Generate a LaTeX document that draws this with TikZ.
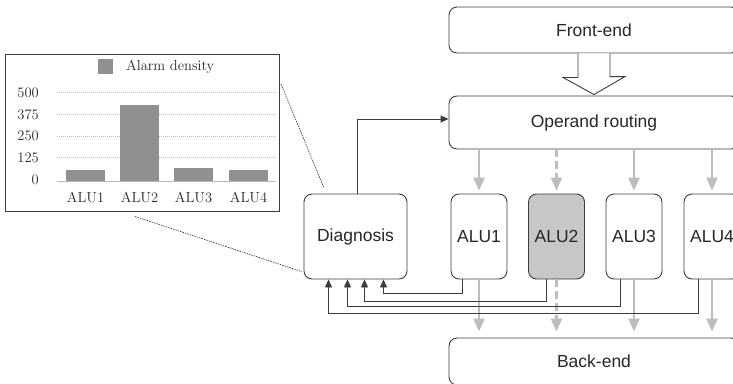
\documentclass[tikz,border=0pt]{standalone}
\usepackage{fontspec}
\newfontfamily\hv{Liberation Sans}
\usetikzlibrary{arrows.meta}
\definecolor{barfill}{HTML}{909090}
\definecolor{edge}{HTML}{3C3C3C}
\definecolor{flow}{HTML}{BDBDBD}
\begin{document}
\begin{tikzpicture}[x=1pt,y=-1pt,
  box/.style={draw=edge, line width=0.9pt, rounded corners=8pt, inner sep=0pt,
    font=\hv\fontsize{17.5}{20}\selectfont, text=black!85},
  alubox/.style={box, minimum width=56pt, minimum height=85pt},
  wide/.style={box, minimum width=290pt},
  fb/.style={draw=edge, line width=0.9pt, -{Triangle[length=8pt,width=7pt]}},
  gflow/.style={draw=flow, line width=2.6pt, -{Triangle[length=13pt,width=11pt]}},
  gdash/.style={gflow, dash pattern=on 8pt off 4pt},
  chartfont/.style={font=\fontsize{14.5}{16}\selectfont, text=black!85, inner sep=0pt},
  zoomline/.style={draw=black!85, line width=0.6pt, dash pattern=on 1.5pt off 1pt}]
\useasboundingbox (0,0) rectangle (733,383);
\clip (0,0) rectangle (733,383);

% ---------- pipeline blocks ----------
\node[wide, minimum height=46pt] (front) at (594,30) {Front-end};
\node[wide, minimum height=53pt] (oper) at (594,122.5) {Operand routing};
\node[wide, minimum height=47pt] (back) at (594,361.5) {Back-end};
\node[box, minimum width=103pt, minimum height=85pt] (diag) at (355.5,236.5) {Diagnosis};
\node[alubox] (alu1) at (479,236.5) {ALU1};
\node[alubox, fill=black!22] (alu2) at (556.5,236.5) {ALU2};
\node[alubox] (alu3) at (634,236.5) {ALU3};
\node[alubox] (alu4) at (712,236.5) {ALU4};

% hollow arrow from the front-end into operand routing
\coordinate (hl) at ([xshift=-16pt]front.south);
\coordinate (hr) at ([xshift=16pt]front.south);
\coordinate (tip) at ([yshift=1pt]oper.north);
\draw[draw=edge, line width=0.9pt, fill=white, line join=miter]
  (hl) -- ++(0,24) -- ++(-15,0) -- (tip) -- ++(31,-18) -- ++(-15,0) -- (hr);

% operands to the ALUs
\draw[gflow, shorten >=3pt] (oper.south -| alu1) -- (alu1.north);
\draw[gdash, shorten >=3pt] (oper.south -| alu2) -- (alu2.north);
\draw[gflow, shorten >=3pt] (oper.south -| alu3) -- (alu3.north);
\draw[gflow, shorten >=3pt] (oper.south -| alu4) -- (alu4.north);

% results to the back-end
\draw[gflow, shorten >=6pt] (alu1.south) -- (back.north -| alu1);
\draw[gdash, shorten >=6pt] (alu2.south) -- (back.north -| alu2);
\draw[gflow, shorten >=6pt] (alu3.south) -- (back.north -| alu3);
\draw[gflow, shorten >=6pt] (alu4.south) -- (back.north -| alu4);

% alarm lines into the diagnosis unit
\draw[fb] ([xshift=-16.3pt]alu1.south) -- ++(0,14) -| ([xshift=28pt]diag.south);
\draw[fb] ([xshift=-10.5pt]alu2.south) -- ++(0,22) -| ([xshift=9pt]diag.south);
\draw[fb] ([xshift=-13.7pt]alu3.south) -- ++(0,27) -| ([xshift=-8pt]diag.south);
\draw[fb] ([xshift=-13.7pt]alu4.south) -- ++(0,34) -| ([xshift=-27pt]diag.south);

% diagnosis steers operand routing
\draw[fb] ([xshift=1.5pt]diag.north) |- ([yshift=3.5pt]oper.west);

% ---------- alarm density chart ----------
\draw[draw=edge, line width=1pt] (5,54) rectangle (279,211);
\fill[barfill] (98,59) rectangle (113,74);
\node[chartfont, anchor=west] (leg) at (126,67) {Alarm density};
\foreach \v/\yy in {500/92.7,375/114.4,250/136,125/157.7}{
  \draw[black!25, line width=0.6pt, dash pattern=on 1pt off 1pt] (57,\yy) -- (276,\yy);
  \node[chartfont, anchor=east] (tick\v) at (39,\yy) {\v};
}
\node[chartfont, anchor=east] (tick0) at (39,180) {0};
\fill[barfill] (66,181) rectangle (105,170);
\fill[barfill] (120,181) rectangle (159,105);
\fill[barfill] (174,181) rectangle (213,167.7);
\fill[barfill] (229,181) rectangle (268,170);
\draw[black!28, line width=0.9pt] (57,181) -- (276,181);
\foreach \n/\xx in {1/85.5,2/139.5,3/193.5,4/248.5}
  \node[chartfont] (lab\n) at (\xx,197) {ALU\n};

% zoom lines from the chart to the diagnosis unit
\coordinate (zt) at (281,84);
\coordinate (zb) at (135,216.5);
\draw[zoomline] (zt) -- (324,188);
\draw[zoomline] (zb) -- (301.5,271.5);
\end{tikzpicture}
\end{document}
